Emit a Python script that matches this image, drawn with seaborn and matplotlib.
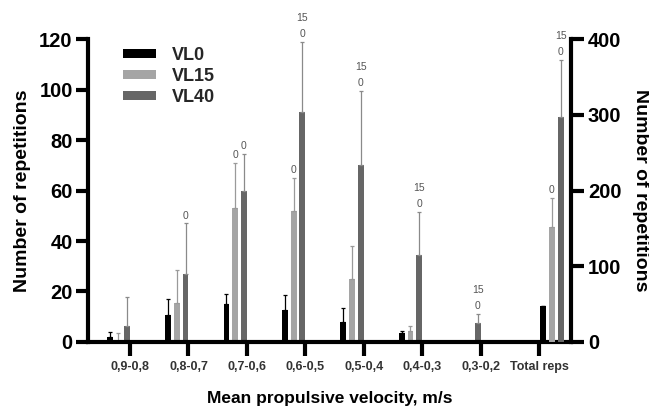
import numpy as np
import pandas as pd
import matplotlib
matplotlib.use("Agg")
import matplotlib.pyplot as plt
from matplotlib.patches import Patch
import seaborn as sns

# ============ DATA ============
ranges = ["0,9-0,8", "0,8-0,7", "0,7-0,6", "0,6-0,5", "0,5-0,4", "0,4-0,3", "0,3-0,2"]
total_label = "Total reps"
groups = ["VL0", "VL15", "VL40"]

# mean repetitions per velocity range (left axis)
vl0 = [2, 10.5, 15, 12.5, 8, 3.5, 0]
vl15 = [0.5, 15.5, 53, 52, 25, 4.5, 0.3]
vl40 = [6.5, 27, 60, 91, 70, 34.5, 7.5]
# upper SD
vl0_sd = [2, 6.5, 4, 6, 5.5, 1, 0]
vl15_sd = [3, 13, 18, 13, 13, 2, 0]
vl40_sd = [11.5, 20, 14.5, 28, 29.5, 17, 3.5]

# total repetitions (right axis)
total_vals = [48, 152, 297]
total_sd = [0, 38, 76]

# text written above error bars
note_vl15 = ["", "", "0", "0", "", "", "", "0"]
note_vl40 = ["", "0", "0", "15\n0", "15\n0", "15\n0", "15\n0", "15\n0"]
# ===============================

colors = ["#000000", "#a5a5a5", "#666666"]
err_colors = ["#000000", "#9a9a9a", "#8a8a8a"]
order = ranges + [total_label]

df = pd.DataFrame({
    "range": ranges * 3,
    "group": np.repeat(groups, len(ranges)),
    "reps": vl0 + vl15 + vl40,
    "sd": vl0_sd + vl15_sd + vl40_sd,
})
df_tot = pd.DataFrame({"range": [total_label] * 3, "group": groups,
                       "reps": total_vals, "sd": total_sd})

sns.set_style("white")
plt.rcParams["font.family"] = ["Liberation Sans", "DejaVu Sans"]
plt.rcParams["font.weight"] = "bold"
plt.rcParams["axes.edgecolor"] = "black"
plt.rcParams["xtick.color"] = "black"
plt.rcParams["ytick.color"] = "black"
plt.rcParams["axes.labelcolor"] = "black"

fig = plt.figure(figsize=(6.49, 4.12), dpi=100)
ax1 = fig.add_axes([0.1356, 0.170, 0.7444, 0.735])
ax2 = ax1.twinx()

sns.barplot(data=df, x="range", y="reps", hue="group", order=order,
            hue_order=groups, palette=colors, width=0.45, gap=0.33,
            saturation=1, errorbar=None, linewidth=0, legend=False, ax=ax1)
sns.barplot(data=df_tot, x="range", y="reps", hue="group", order=order,
            hue_order=groups, palette=colors, width=0.45, gap=0.33,
            saturation=1, errorbar=None, linewidth=0, legend=False, ax=ax2)


def finish(ax, frame, shift, notes):
    # groups sit beside the tick, not on it
    for bar in ax.patches:
        bar.set_x(bar.get_x() + shift)
    bar_sets = list(ax.containers)
    for i, cont in enumerate(bar_sets):
        sub = frame[frame["group"] == groups[i]]
        xs = [b.get_x() + b.get_width() / 2 for b in cont]
        tops = sub["reps"].to_numpy()
        sds = sub["sd"].to_numpy()
        ax.errorbar(xs, tops, yerr=[np.zeros(len(sds)), sds], fmt="none",
                    ecolor=err_colors[i], elinewidth=0.9, capsize=1.6,
                    capthick=0.9, zorder=1)
        if notes[i] is None:
            continue
        for x, t, s, cat in zip(xs, tops, sds, sub["range"]):
            txt = notes[i][order.index(cat)]
            if txt:
                ax.annotate(txt, (x, t + s), xytext=(0, 2),
                            textcoords="offset points", ha="center",
                            va="bottom", fontsize=7.5, fontweight="normal",
                            color="#555555", linespacing=1.75,
                            annotation_clip=False)


finish(ax1, df, -0.2, [None, note_vl15, note_vl40])
finish(ax2, df_tot, 0.22, [None, note_vl15, note_vl40])

ax1.set_xlim(-0.72, 7.55)
ax1.set_ylim(0, 120)
ax2.set_ylim(0, 400)
ax1.set_yticks(range(0, 121, 20))
ax2.set_yticks(range(0, 401, 100))

for sp in ["top", "right"]:
    ax1.spines[sp].set_visible(False)
for sp in ["top", "left", "bottom"]:
    ax2.spines[sp].set_visible(False)
for sp in ["left", "bottom"]:
    ax1.spines[sp].set_linewidth(3)
ax2.spines["right"].set_linewidth(3)

ax1.tick_params(axis="x", direction="out", length=10, width=3, pad=4,
                labelsize=9, labelcolor="#333333", bottom=True)
ax1.tick_params(axis="y", direction="out", length=9, width=3, pad=2,
                labelsize=14.5, left=True)
ax2.tick_params(axis="y", direction="out", length=9, width=3, pad=3,
                labelsize=14.5, right=True)

ax1.set_xlabel("Mean propulsive velocity, m/s", fontsize=12.5,
               fontweight="bold", labelpad=13)
ax1.set_ylabel("Number of repetitions", fontsize=14, fontweight="bold",
               labelpad=6)
ax2.set_ylabel("Number of repetitions", fontsize=14, fontweight="bold",
               rotation=270, labelpad=8, va="bottom")

handles = [Patch(facecolor=c, edgecolor="none", label=g)
           for c, g in zip(colors, groups)]
ax1.legend(handles=handles, loc="upper left", bbox_to_anchor=(0.073, 0.975),
           frameon=False, handlelength=1.8, handleheight=0.4,
           handletextpad=0.9, labelspacing=0.22, borderpad=0,
           borderaxespad=0, prop={"weight": "bold", "size": 13})

fig.savefig("out.png", dpi=100)
